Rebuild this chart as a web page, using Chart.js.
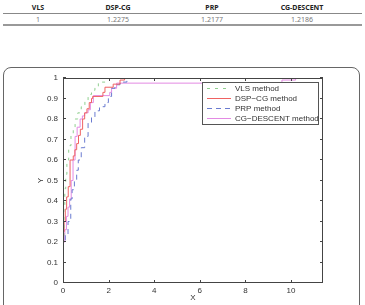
<!DOCTYPE html>
<html>
<head>
<meta charset="UTF-8">
<script src="https://cdn.jsdelivr.net/npm/chart.js"></script>
<style>
  body { margin: 0; width: 365px; height: 305px; overflow: hidden; background: #fff; position: relative; }
  #tbl { position: absolute; left: 3px; top: 2px; width: 359px; border-collapse: collapse;
         font-family: "Noto Sans", sans-serif; font-size: 7px; table-layout: fixed; }
  #tbl th { font-weight: bold; color: #222; height: 11px; padding: 0; text-align: center; border-bottom: 1px solid #888; }
  #tbl td { color: #777; height: 10px; padding: 0; text-align: center; border-bottom: 2px solid #999; }
  #box { position: absolute; left: 3px; top: 67px; width: 355px; height: 260px;
         border: 1px solid #666; border-radius: 8px; }
  #c { position: absolute; left: 0; top: 0; }
</style>
</head>
<body>
<table id="tbl">
  <colgroup><col style="width:70px"><col style="width:90px"><col style="width:98px"><col style="width:82px"><col style="width:19px"></colgroup>
  <thead><tr><th>VLS</th><th>DSP-CG</th><th>PRP</th><th>CG-DESCENT</th><th></th></tr></thead>
  <tbody><tr><td>1</td><td>1.2275</td><td>1.2177</td><td>1.2186</td><td></td></tr></tbody>
</table>
<div id="box"></div>
<canvas id="c" width="365" height="305"></canvas>
<script>
// performance profiles
const vlsX = [0, 0, 0.04, 0.08, 0.12, 0.17, 0.25, 0.35, 0.45, 0.53, 0.65, 0.8, 0.96, 1.1, 1.25, 1.4, 1.55, 1.9, 11.4];
const vlsY = [0, 0.2, 0.36, 0.46, 0.53, 0.6, 0.67, 0.72, 0.76, 0.8, 0.83, 0.86, 0.89, 0.92, 0.94, 0.96, 0.98, 1.0, 1.0];

const dspX = [0, 0, 0.05, 0.1, 0.16, 0.23, 0.31, 0.45, 0.52, 0.6, 0.68, 0.76, 0.86, 0.95, 1.05, 1.15, 1.25, 1.3, 1.75, 1.84, 2.2, 2.5, 2.7, 11.4];
const dspY = [0, 0.25, 0.3, 0.36, 0.42, 0.47, 0.6, 0.62, 0.65, 0.68, 0.72, 0.75, 0.8, 0.83, 0.85, 0.88, 0.9, 0.91, 0.93, 0.955, 0.97, 0.99, 1.0, 1.0];

const prpX = [0, 0, 0.1, 0.22, 0.34, 0.4, 0.5, 0.6, 0.67, 0.8, 0.95, 1.1, 1.25, 1.4, 1.6, 1.84, 1.99, 2.13, 2.28, 2.5, 2.8, 11.4];
const prpY = [0, 0.2, 0.235, 0.3, 0.41, 0.455, 0.5, 0.55, 0.6, 0.66, 0.715, 0.78, 0.81, 0.84, 0.86, 0.88, 0.91, 0.95, 0.967, 0.98, 1.0, 1.0];

const cgdX = [0, 0, 0.08, 0.15, 0.22, 0.29, 0.36, 0.44, 0.53, 0.62, 0.75, 0.85, 0.95, 1.1, 1.2, 1.33, 2.05, 2.13, 2.35, 9.6, 10.2, 11.4];
const cgdY = [0, 0.2, 0.26, 0.325, 0.37, 0.41, 0.5, 0.6, 0.715, 0.76, 0.8, 0.815, 0.83, 0.845, 0.88, 0.914, 0.93, 0.95, 0.975, 0.99, 1.0, 1.0];

const seriesNames = ['VLS method', 'DSP\u2212CG method', 'PRP method', 'CG\u2212DESCENT method'];
const xTicks = [0, 2, 4, 6, 8, 10];
const yTicks = [0, 0.1, 0.2, 0.3, 0.4, 0.5, 0.6, 0.7, 0.8, 0.9, 1];

function pts(xs, ys) { return xs.map((x, i) => ({ x: x, y: ys[i] })); }

const axisColor = '#444';
const fontFam = '"Liberation Sans", Arial, sans-serif';

// box, inward ticks and legend, MATLAB style
const matlabAxes = {
  id: 'matlabAxes',
  afterDatasetsDraw(chart) {
    const { ctx, chartArea: a, scales } = chart;
    ctx.save();
    ctx.strokeStyle = axisColor;
    ctx.lineWidth = 1;
    ctx.strokeRect(Math.round(a.left) + 0.5, Math.round(a.top) + 0.5,
                   Math.round(a.right - a.left) - 1, Math.round(a.bottom - a.top) - 1);
    ctx.beginPath();
    const tl = 3;
    scales.x.ticks.forEach(t => {
      const px = Math.round(scales.x.getPixelForValue(t.value)) + 0.5;
      ctx.moveTo(px, a.bottom); ctx.lineTo(px, a.bottom - tl);
      ctx.moveTo(px, a.top); ctx.lineTo(px, a.top + tl);
    });
    scales.y.ticks.forEach(t => {
      const py = Math.round(scales.y.getPixelForValue(t.value)) - 0.5;
      ctx.moveTo(a.left, py); ctx.lineTo(a.left + tl, py);
      ctx.moveTo(a.right, py); ctx.lineTo(a.right - tl, py);
    });
    ctx.stroke();

    // legend
    const lx = 202.5, ly = 82.5, lw = 116, lh = 42;
    ctx.fillStyle = '#fff';
    ctx.fillRect(lx, ly, lw, lh);
    ctx.strokeStyle = '#555';
    ctx.strokeRect(lx, ly, lw, lh);
    ctx.font = '8px ' + fontFam;
    ctx.textBaseline = 'middle';
    chart.data.datasets.forEach((ds, i) => {
      const y = 88 + i * 10 + 0.5;
      ctx.strokeStyle = ds.borderColor;
      ctx.setLineDash(ds.borderDash || []);
      ctx.beginPath();
      ctx.moveTo(207, y); ctx.lineTo(231, y);
      ctx.stroke();
      ctx.setLineDash([]);
      ctx.fillStyle = '#333';
      ctx.fillText(ds.label, 235, y);
    });
    ctx.restore();
  }
};

new Chart(document.getElementById('c'), {
  type: 'scatter',
  data: {
    datasets: [
      { label: seriesNames[0], data: pts(vlsX, vlsY), borderColor: '#8fcf8f', borderDash: [3, 5] },
      { label: seriesNames[1], data: pts(dspX, dspY), borderColor: '#ef6262' },
      { label: seriesNames[2], data: pts(prpX, prpY), borderColor: '#6a7bd0', borderDash: [5, 4] },
      { label: seriesNames[3], data: pts(cgdX, cgdY), borderColor: '#e38ae3' }
    ].map(d => Object.assign(d, { showLine: true, stepped: 'before', pointRadius: 0, borderWidth: 1, fill: false }))
  },
  options: {
    responsive: false,
    animation: false,
    layout: { padding: { left: 30, top: 78, right: 42, bottom: 0 } },
    plugins: { legend: { display: false }, tooltip: { enabled: false } },
    scales: {
      x: {
        type: 'linear', min: 0, max: 11.4,
        afterBuildTicks: s => { s.ticks = xTicks.map(v => ({ value: v })); },
        afterFit: s => { s.height = 22; },
        grid: { display: false, drawTicks: false },
        border: { display: false },
        ticks: { padding: 3, color: '#333', font: { family: fontFam, size: 8 }, callback: v => String(v) },
        title: { display: true, text: 'X', color: '#333', font: { family: fontFam, size: 8 }, padding: { top: 0, bottom: 2 } }
      },
      y: {
        type: 'linear', min: 0, max: 1,
        afterBuildTicks: s => { s.ticks = yTicks.map(v => ({ value: v })); },
        afterFit: s => { s.width = 33; },
        grid: { display: false, drawTicks: false },
        border: { display: false },
        ticks: { padding: 5, color: '#333', font: { family: fontFam, size: 8 }, callback: v => String(Math.round(v * 10) / 10) },
        title: { display: true, text: 'Y', color: '#333', font: { family: fontFam, size: 8 }, padding: { top: 6, bottom: 0 } }
      }
    }
  },
  plugins: [matlabAxes]
});
</script>
</body>
</html>
